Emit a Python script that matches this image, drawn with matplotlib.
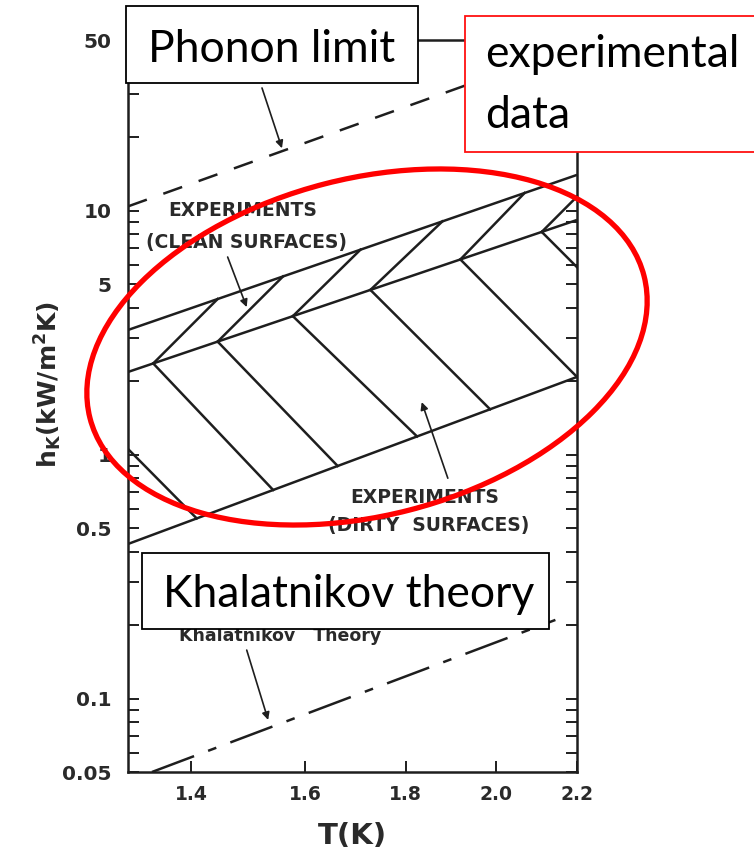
import numpy as np
import matplotlib.pyplot as plt
from matplotlib.patches import Ellipse, Rectangle
from matplotlib.ticker import FixedLocator, NullLocator, LogLocator, NullFormatter

# band edges read at the two ends of the T axis
T_edge = [1.3, 2.2]
clean_upper = [3.24, 14.0]
clean_lower = [2.18, 9.15]   # also upper edge of the dirty band
dirty_lower = [0.43, 2.08]

phonon_T = [1.3, 2.2]
phonon_h = [10.4, 47.5]
khal_T = [1.337, 2.145]
khal_h = [0.05, 0.21]

# hatching: start T on the middle line, end T on the outer line
clean_hatch_start = [1.339, 1.444, 1.577, 1.727, 1.919, 2.111]
clean_hatch_end = [1.444, 1.559, 1.707, 1.879, 2.069, 2.287]
dirty_hatch_start = [1.216, 1.339, 1.444, 1.577, 1.727, 1.919, 2.111]
dirty_hatch_end = [1.409, 1.541, 1.662, 1.824, 1.987, 2.2, 2.416]

xticks = [1.4, 1.6, 1.8, 2.0, 2.2]
xtick_labels = ['1.4', '1.6', '1.8', '2.0', '2.2']
yticks = [0.05, 0.1, 0.5, 1, 5, 10, 50]
ytick_labels = ['0.05', '0.1', '0.5', '1', '5', '10', '50']

ink = '#1e1e1e'
grey_txt = '#2a2a2a'


def on_line(T, h_pair):
    # straight line on log-log axes through the two edge points
    lt = np.log(np.asarray(T, dtype=float))
    lt0, lt1 = np.log(T_edge)
    lh0, lh1 = np.log(h_pair)
    return np.exp(lh0 + (lt - lt0) * (lh1 - lh0) / (lt1 - lt0))


fig = plt.figure(figsize=(7.54, 8.5), dpi=100)
ax = fig.add_axes([128 / 754, 78 / 850, 449 / 754, 732 / 850])
ax.set_xscale('log')
ax.set_yscale('log')
ax.set_xlim(1.3, 2.2)
ax.set_ylim(0.05, 50)

lw = 1.8
for edge in (clean_upper, clean_lower, dirty_lower):
    ax.plot(T_edge, edge, color=ink, lw=lw, solid_capstyle='butt')

for t0, t1 in zip(clean_hatch_start, clean_hatch_end):
    ax.plot([t0, t1], [on_line(t0, clean_lower), on_line(t1, clean_upper)],
            color=ink, lw=lw)
for t0, t1 in zip(dirty_hatch_start, dirty_hatch_end):
    ax.plot([t0, t1], [on_line(t0, clean_lower), on_line(t1, dirty_lower)],
            color=ink, lw=lw)

ax.plot(phonon_T, phonon_h, color=ink, lw=1.8, linestyle=(0, (8, 7)))
ax.plot(khal_T, khal_h, color=ink, lw=1.8, linestyle=(0, (18, 6, 3.5, 6)))

# labels of the original figure
lab = dict(color=grey_txt, fontsize=13.5, fontweight='bold', ha='center', va='center')
ax.text(1.487, 10.05, 'EXPERIMENTS', **lab)
ax.text(1.494, 7.43, '(CLEAN SURFACES)', **lab)
ax.text(1.841, 0.664, 'EXPERIMENTS', **lab)
ax.text(1.85, 0.514, '(DIRTY  SURFACES)', **lab)
# original caption, mostly hidden under the slide box
ax.text(1.553, 0.172, 'Khalatnikov   Theory', color=grey_txt, fontsize=12.5,
        fontweight='bold', ha='center', va='baseline')

arr = dict(arrowstyle='-|>', color=ink, lw=1.2, mutation_scale=11, shrinkA=0, shrinkB=0)
ax.annotate('', xy=(1.557, 18.0), xytext=(1.521, 31.8), arrowprops=arr)
ax.annotate('', xy=(1.494, 4.02), xytext=(1.461, 6.45), arrowprops=arr)
ax.annotate('', xy=(1.834, 1.64), xytext=(1.891, 0.80), arrowprops=arr)
ax.annotate('', xy=(1.532, 0.0817), xytext=(1.494, 0.158), arrowprops=arr)

# axes styling
ax.xaxis.set_major_locator(FixedLocator(xticks))
ax.set_xticklabels(xtick_labels)
ax.xaxis.set_minor_locator(NullLocator())
ax.yaxis.set_major_locator(FixedLocator(yticks))
ax.set_yticklabels(ytick_labels)
ax.yaxis.set_minor_locator(LogLocator(base=10, subs=np.arange(2, 10)))
ax.yaxis.set_minor_formatter(NullFormatter())
ax.tick_params(axis='both', which='both', direction='in', length=8, width=1.4,
               color=ink, labelcolor=grey_txt)
ax.tick_params(axis='y', which='both', right=True, pad=12, labelsize=14.5)
ax.tick_params(axis='x', pad=9, labelsize=13.5)
for lbl in ax.get_xticklabels() + ax.get_yticklabels():
    lbl.set_fontweight('bold')
for sp in ax.spines.values():
    sp.set_linewidth(1.8)
    sp.set_color(ink)

fig.text(48 / 754, 1 - 385 / 850, r'h$_\mathregular{K}$(kW/m$^\mathregular{2}$K)',
         rotation=90, ha='center', va='center', fontsize=18, fontweight='bold',
         color=grey_txt)
fig.text(352 / 754, 1 - 836 / 850, 'T(K)', ha='center', va='center',
         fontsize=21, fontweight='bold', color=grey_txt)

# slide overlays (in figure inches)
tr = fig.dpi_scale_trans
fig.patches.append(Ellipse((3.67, 5.03), 5.72, 3.37, angle=14.4, fill=False,
                           edgecolor='#ff0000', lw=3.8, transform=tr, zorder=5))
fig.patches.append(Rectangle((1.26, 7.67), 2.92, 0.77, facecolor='white',
                             edgecolor='black', lw=1.3, transform=tr, zorder=6))
fig.patches.append(Rectangle((4.65, 6.98), 3.2, 1.36, facecolor='white',
                             edgecolor='#ff1010', lw=1.3, transform=tr, zorder=6))
fig.patches.append(Rectangle((1.42, 2.21), 4.07, 0.76, facecolor='white',
                             edgecolor='black', lw=1.3, transform=tr, zorder=6))

ov = dict(family='Lato', fontsize=32, color='black', ha='left', va='baseline',
          transform=tr, zorder=7)
fig.text(1.48, 8.5 - 0.62, 'Phonon limit', **ov)
fig.text(4.85, 8.5 - 0.67, 'experimental', **ov)
fig.text(4.85, 8.5 - 1.28, 'data', **ov)
fig.text(1.63, 8.5 - 6.07, 'Khalatnikov theory', **ov)

fig.savefig('out.png', dpi=100)
